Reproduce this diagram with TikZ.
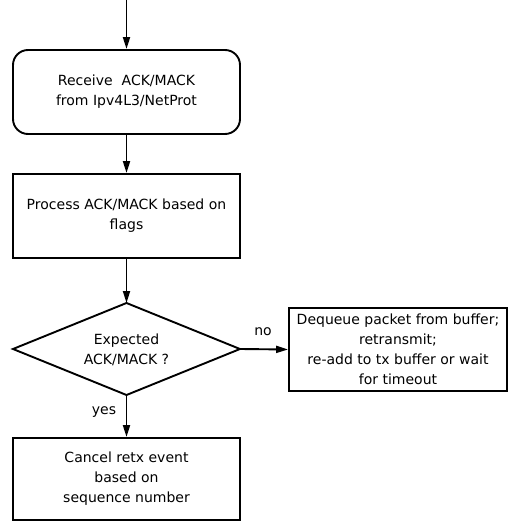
\documentclass[tikz,border=0pt]{standalone}
\usepackage{fontspec}
\setmainfont{DejaVu Sans}
\usetikzlibrary{arrows.meta,shapes.geometric}
\begin{document}
\begin{tikzpicture}[x=1pt,y=-1pt,
  font=\fontsize{14}{20}\selectfont,
  flow/.style={line width=1.9pt,-{Triangle[length=12pt,width=7pt]}},
  box/.style={draw,line width=1.9pt,align=center,inner sep=0pt},
  lbl/.style={inner sep=0pt}]
  \useasboundingbox (0,0) rectangle (509,521);
  % top entry point
  \coordinate (start) at (126.5,0);
  % receive step (rounded)
  \node[box,rounded corners=15pt,minimum width=227pt,minimum height=84pt] (recv) at (126.5,92)
    {Receive\ \ ACK/MACK\\from Ipv4L3/NetProt};
  % processing step
  \node[box,minimum width=227pt,minimum height=84pt] (proc) at (126.5,216)
    {Process ACK/MACK based on\\flags};
  % decision
  \coordinate (dT) at (126.5,303);
  \coordinate (dB) at (126.5,395);
  \coordinate (dL) at (13,349);
  \coordinate (dR) at (240,349);
  \draw[line width=1.9pt,line join=miter] (dT) -- (dR) -- (dB) -- (dL) -- cycle;
  \node[lbl,align=center] (dec) at (126.5,350) {Expected\\ACK/MACK ?};
  % outcome boxes
  \node[box,minimum width=227pt,minimum height=82pt] (cancel) at (126.5,479)
    {Cancel retx event\\based on\\sequence number};
  \node[box,minimum width=218pt,minimum height=83pt] (retx) at (398,349.5)
    {Dequeue packet from buffer;\\retransmit;\\ re-add to tx buffer or wait\\for timeout};
  % connectors
  \draw[flow] (start) -- (recv.north);
  \draw[flow] (recv.south) -- (proc.north);
  \draw[flow] (proc.south) -- (dT);
  \draw[flow] (dB) -- (cancel.north);
  \draw[flow] (dR) -- (retx.west);
  % branch labels
  \node[lbl] (yes) at (104,412) {yes};
  \node[lbl] (no) at (263,332) {no};
\end{tikzpicture}
\end{document}
